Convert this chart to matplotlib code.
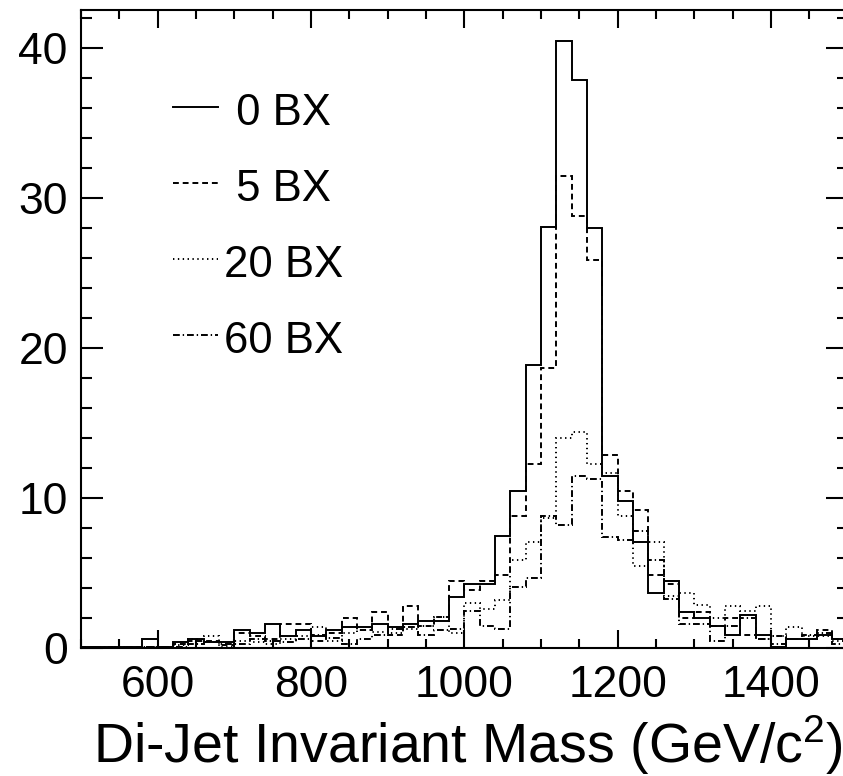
import numpy as np
import matplotlib
matplotlib.use("Agg")
import matplotlib.pyplot as plt
from matplotlib.ticker import MultipleLocator

plt.rcParams['font.family'] = ['Liberation Sans', 'DejaVu Sans']
plt.rcParams['mathtext.default'] = 'regular'

# bins of 20 GeV from 500 to 1500
edges = np.arange(500, 1501, 20)

bx0 = [0.1, 0.1, 0.1, 0.1, 0.6, 0.1, 0.4, 0.6, 0.4, 0.4,
       1.2, 1.0, 1.6, 0.8, 1.2, 0.8, 1.2, 1.4, 1.4, 1.6,
       1.4, 1.6, 1.8, 1.8, 3.4, 4.3, 4.3, 7.5, 10.5, 18.9,
       28.1, 40.5, 37.9, 28.0, 11.5, 9.8, 7.1, 3.7, 4.5, 2.4,
       2.0, 1.5, 0.9, 2.2, 0.9, 0.1, 0.6, 0.6, 0.9, 0.6]

bx5 = [0.1, 0.0, 0.0, 0.1, 0.1, 0.0, 0.3, 0.5, 0.5, 0.2,
       1.0, 0.8, 0.6, 1.6, 1.6, 0.5, 1.0, 2.0, 1.2, 2.4,
       0.9, 2.8, 1.5, 2.1, 4.5, 3.9, 4.5, 4.9, 8.8, 12.3,
       18.7, 31.5, 28.8, 25.9, 12.9, 10.5, 9.2, 4.9, 4.3, 2.0,
       2.4, 1.5, 2.0, 0.9, 0.6, 0.8, 0.6, 0.6, 1.2, 0.6]

bx20 = [0.0, 0.0, 0.1, 0.0, 0.1, 0.1, 0.2, 0.6, 0.8, 0.1,
        0.5, 0.4, 0.3, 0.6, 0.8, 1.4, 0.5, 1.0, 1.2, 1.1,
        1.0, 1.3, 1.5, 2.1, 1.0, 3.0, 2.6, 3.2, 5.9, 7.1,
        8.7, 14.0, 14.4, 12.3, 11.7, 8.8, 5.5, 7.1, 3.5, 3.7,
        2.9, 2.0, 2.8, 2.5, 2.8, 0.8, 1.4, 0.8, 0.8, 0.5]

bx60 = [0.0, 0.1, 0.0, 0.0, 0.1, 0.1, 0.1, 0.3, 0.4, 0.3,
        0.3, 0.6, 0.5, 0.4, 0.6, 0.9, 0.7, 0.3, 0.6, 0.9,
        1.3, 1.4, 0.9, 1.2, 1.3, 2.5, 1.5, 1.3, 4.1, 4.7,
        8.8, 8.2, 11.5, 11.3, 7.4, 7.2, 7.8, 5.9, 3.3, 1.6,
        1.6, 0.5, 1.5, 2.0, 0.6, 0.3, 0.6, 0.9, 1.0, 0.3]

labels = [' 0 BX', ' 5 BX', '20 BX', '60 BX']
styles = ['-', (0, (3, 2)), (0, (0.7, 1.8)), (0, (3.5, 1.5, 0.7, 1.5))]

W, H = 843, 776
fig = plt.figure(figsize=(W / 100, H / 100), dpi=100)
# axes box in pixels: x 81 -> 848 (right edge falls just outside), y 9.5 -> 648
ax_l, ax_r, ax_t, ax_b = 81, 847.7, 9.5, 648
ax = fig.add_axes([ax_l / W, (H - ax_b) / H, (ax_r - ax_l) / W, (ax_b - ax_t) / H])

for vals, ls in zip([bx0, bx5, bx20, bx60], styles):
    ax.stairs(vals, edges, color='k', lw=1.4, linestyle=ls)

ax.set_xlim(500, 1500)
ax.set_ylim(0, 42.57)

ax.xaxis.set_major_locator(MultipleLocator(200))
ax.xaxis.set_minor_locator(MultipleLocator(50))
ax.yaxis.set_major_locator(MultipleLocator(10))
ax.yaxis.set_minor_locator(MultipleLocator(2))
ax.tick_params(which='both', direction='in', top=True, right=True, width=1.5, labelsize=32)
ax.tick_params(axis='x', which='major', length=13, pad=12)
ax.tick_params(axis='x', which='minor', length=6.5)
ax.tick_params(axis='y', which='major', length=16, pad=9.5)
ax.tick_params(axis='y', which='minor', length=8)
for sp in ax.spines.values():
    sp.set_linewidth(1.5)

# legend drawn by hand (ROOT-like, no frame)
def px_to_ax(x, y):
    return (x - ax_l) / (ax_r - ax_l), (ax_b - y) / (ax_b - ax_t)

for i, (lab, ls) in enumerate(zip(labels, styles)):
    yl = 107 + 76 * i
    x0, y0 = px_to_ax(173, yl)
    x1, _ = px_to_ax(218, yl)
    ax.plot([x0, x1], [y0, y0], transform=ax.transAxes, color='k', lw=1.4, linestyle=ls)
    tx, ty = px_to_ax(224, yl + 18)
    ax.text(tx, ty, lab, transform=ax.transAxes, fontsize=31.5, ha='left', va='baseline')

fig.text(93 / W, (H - 763) / H, 'Di-Jet Invariant Mass (GeV/c$^{2}$)',
         fontsize=40, ha='left', va='baseline')

fig.savefig('out.png', dpi=100)
